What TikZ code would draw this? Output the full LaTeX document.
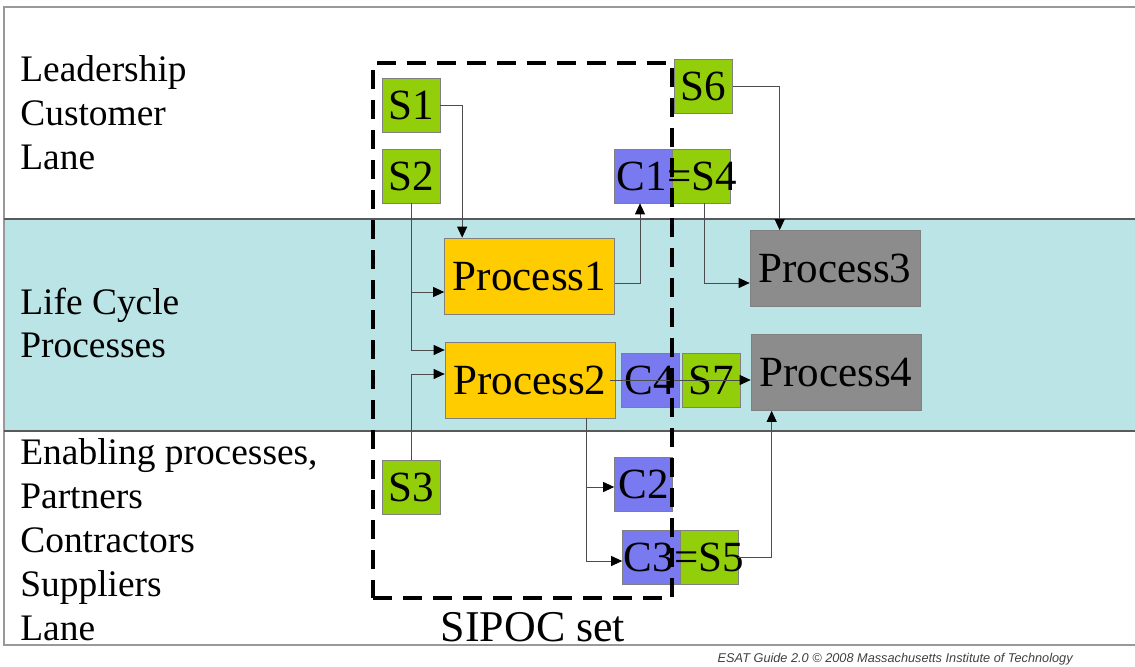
\documentclass[tikz,border=0pt]{standalone}
\usepackage{fontspec}
\setmainfont{Liberation Serif}
\setsansfont{Liberation Sans}
\usetikzlibrary{arrows.meta,positioning}
\definecolor{sgreen}{RGB}{146,206,10}
\definecolor{cblue}{RGB}{122,122,240}
\definecolor{pyellow}{RGB}{255,204,0}
\definecolor{pgray}{RGB}{140,140,140}
\definecolor{lanecyan}{RGB}{187,228,230}
\begin{document}
\begin{tikzpicture}[x=0.02cm, y=-0.02cm,
	box/.style={draw=black!50, inner sep=0, minimum width=1.16cm, minimum height=1.08cm, font=\fontsize{24.5}{28}\selectfont},
	sbox/.style={box, fill=sgreen},
	cbox/.style={box, fill=cblue},
	pbox/.style={box, minimum width=3.4cm, minimum height=1.52cm},
	conn/.style={draw=black!70, line width=0.5pt, -{Triangle[length=0.22cm, width=0.2cm, color=black]}},
	lane/.style={align=left, anchor=west, inner sep=0, font=\fontsize{21.3}{25}\selectfont}]
			\useasboundingbox (0,0) rectangle (1135,666);
			\fill[lanecyan] (4,219) rectangle (1135,431);
			\draw[gray!80, line width=0.8pt] (1135,7) -- (4,7) -- (4,645) -- (1135,645);
			\draw[black!65, line width=1pt] (4,219) -- (1135,219) (4,431) -- (1135,431);

			\node[lane] (leadlane) at (20,113) {Leadership\\Customer\\Lane};
			\node[lane] (lifelane) at (20,323) {Life Cycle\\Processes};
			\node[lane] (enablane) at (20,540) {Enabling processes,\\Partners\\Contractors\\Suppliers\\Lane};

			\foreach \n/\x/\y in {S1/411/105, S2/411/176, S3/411/487, S6/703.5/86, S7/711/380.5}
				{
					\node[sbox] (\n) at (\x,\y) {\n};
				}
			\node[sbox] (S4) at (701,176) {};
			\node[sbox] (S5) at (709,557) {};
			\foreach \n/\x/\y in {C2/643.5/484.5, C4/650/380.5}
				{
					\node[cbox] (\n) at (\x,\y) {\n};
				}
			\node[cbox] (C1) at (643.5,176) {};
			\node[cbox] (C3) at (651.5,557.5) {};
			\node[font=\fontsize{24.5}{28}\selectfont, inner sep=0] (C1S4) at ([xshift=0.08cm]C1.east) {C1=S4};
			\node[font=\fontsize{24.5}{28}\selectfont, inner sep=0] (C3S5) at ([xshift=0.06cm]C3.east) {C3=S5};

			\foreach \n/\x/\y in {Process1/529.5/276, Process2/530/380}
				{
					\node[pbox, fill=pyellow] (\n) at (\x,\y) {\n};
				}
			\foreach \n/\x/\y in {Process3/835/268.5, Process4/836/372.5}
				{
					\node[pbox, fill=pgray] (\n) at (\x,\y) {\n};
				}

			\draw[conn] (S1.east) -| ([xshift=0.36cm]Process1.north west);
			\draw[conn] (S2.south) |- ([yshift=-0.32cm]Process1.west);
			\draw[conn] (S2.south) |- ([yshift=0.6cm]Process2.west);
			\draw[conn] (S3.north) |- ([yshift=0.12cm]Process2.west);
			\draw[conn] ([yshift=-0.14cm]Process1.east) -| ([xshift=-0.07cm]C1.south);
			\draw[conn] ([xshift=0.06cm]S4.south) |- ([yshift=-0.29cm]Process3.west);
			\draw[conn] (S6.east) -| ([xshift=0.6cm]Process3.north west);
			\draw[conn] ([xshift=-0.1cm]Process2.east) -- (Process2.east -| Process4.west);
			\draw[conn] ([xshift=-0.58cm]Process2.south east) |- ([yshift=-0.05cm]C2.west);
			\draw[conn] ([xshift=-0.58cm]Process2.south east) |- ([yshift=-0.07cm]C3.west);
			\draw[conn] (S5.east) -| ([xshift=0.42cm]Process4.south west);

			\node[draw, dash pattern=on 0.38cm off 0.22cm, line width=2.4pt, minimum width=5.98cm, minimum height=10.7cm, inner sep=0] (sipoc) at (522.5,330.5) {};
			\node[font=\fontsize{25}{30}\selectfont, inner sep=0] (sipoclabel) at (533,627) {SIPOC set};
			\node[anchor=east, font=\sffamily\itshape\fontsize{7.25}{9}\selectfont, text=black!75, inner sep=0] (footer) at (1073,659) {ESAT Guide 2.0 © 2008 Massachusetts Institute of Technology};
		\end{tikzpicture}
\end{document}
